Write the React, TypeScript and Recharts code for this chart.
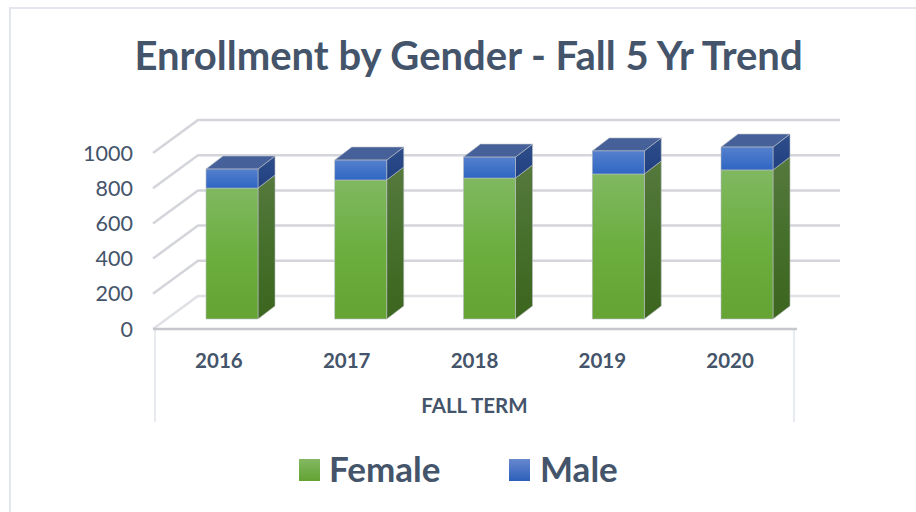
import React from "react";
import { BarChart, Bar, XAxis, YAxis, CartesianGrid, Legend } from "recharts";

const terms = ["2016", "2017", "2018", "2019", "2020"];
const female = [744, 790, 801, 824, 847];
const male = [108, 113, 119, 131, 130];
const yTicks = [0, 200, 400, 600, 800, 1000];
const legendItems = [
  { name: "Female", gradient: "linear-gradient(#84b862,#63a233)", left: 299, textLeft: 329 },
  { name: "Male", gradient: "linear-gradient(#6888cf,#2c5fba)", left: 509, textLeft: 540 },
];

const rows = terms.map((term, i) => ({ term, Female: female[i], Male: male[i] }));

const FONT = "Lato, 'Open Sans', sans-serif";
const INK = "#44546a";
const DEPTH_X = 43;
const DEPTH_Y = 33;
const BAR_DX = 13;
const BAR_DY = -10;
const BAR_SPREAD = 0.95;
const SIDE_X = 17;
const SIDE_Y = 13;
const EDGE = "#b9bdc4";

function box(props: any, front: string, side: string, top?: string) {
  const x = props.x + BAR_DX + (props.index || 0) * BAR_SPREAD;
  const y = props.y + BAR_DY;
  const w = props.width;
  const h = props.height;
  return (
    <g>
      <polygon
        points={`${x + w},${y} ${x + w + SIDE_X},${y - SIDE_Y} ${x + w + SIDE_X},${y + h - SIDE_Y} ${x + w},${y + h}`}
        fill={`url(#${side})`}
        stroke={EDGE}
        strokeWidth={0.6}
      />
      {top && (
        <polygon
          points={`${x},${y} ${x + SIDE_X},${y - SIDE_Y} ${x + w + SIDE_X},${y - SIDE_Y} ${x + w},${y}`}
          fill={top}
          stroke={EDGE}
          strokeWidth={0.6}
        />
      )}
      <rect x={x} y={y} width={w} height={h} fill={`url(#${front})`} stroke={EDGE} strokeWidth={0.6} />
    </g>
  );
}

const femaleShape = (p: any) => box(p, "femaleFront", "femaleSide");
const maleShape = (p: any) => box(p, "maleFront", "maleSide", "#46609a");

function wallLine(props: any) {
  const { x1, x2, y1, y, height } = props;
  const isFloor = Math.abs(y1 - (y + height)) < 1;
  const rightEnd = x2 + 46;
  return (
    <g key={`wall-${y1}`}>
      <polyline
        points={`${x1 - 2},${y1} ${x1 + DEPTH_X},${y1 - DEPTH_Y} ${rightEnd},${y1 - DEPTH_Y}`}
        fill="none"
        stroke={isFloor ? "#dfe1e5" : "#d3d5da"}
        strokeWidth={2.5}
      />
      {isFloor && (
        <g>
          <line x1={x1} x2={x1} y1={y1} y2={422} stroke="#dfe3e9" strokeWidth={1.5} />
          <line x1={x2} x2={x2} y1={y1} y2={422} stroke="#dfe3e9" strokeWidth={1.5} />
          <line x1={x1 - 2} x2={x2 + 3} y1={y1} y2={y1} stroke="#c5c7cc" strokeWidth={2.5} />
        </g>
      )}
    </g>
  );
}

function LegendBox() {
  return (
    <div style={{ position: "relative", width: 916, height: 40 }}>
      {legendItems.map((it) => (
        <React.Fragment key={it.name}>
          <div
            style={{
              position: "absolute",
              left: it.left,
              top: 11,
              width: 21,
              height: 22,
              background: it.gradient,
            }}
          />
          <div
            style={{
              position: "absolute",
              left: it.textLeft,
              top: 0,
              fontFamily: FONT,
              fontWeight: 700,
              fontSize: 35,
              lineHeight: "40px",
              color: INK,
            }}
          >
            {it.name}
          </div>
        </React.Fragment>
      ))}
    </div>
  );
}

export default function App() {
  return (
    <div style={{ position: "absolute", left: 0, top: 0, width: 916, height: 512, overflow: "hidden", background: "#fff" }}>
      <div
        style={{
          position: "absolute",
          left: 9,
          top: 7,
          width: 920,
          height: 520,
          border: "2px solid #e3e6ec",
          boxSizing: "border-box",
        }}
      />
      <div
        style={{
          position: "absolute",
          left: 0,
          width: 937,
          top: 31,
          textAlign: "center",
          fontFamily: FONT,
          fontWeight: 700,
          fontSize: 40,
          lineHeight: "48px",
          color: INK,
          whiteSpace: "nowrap",
        }}
      >
        Enrollment by Gender - Fall 5 Yr Trend
      </div>
      <div style={{ position: "absolute", left: 0, top: 0 }}>
        <BarChart
          width={916}
          height={512}
          data={rows}
          barSize={52}
          margin={{ left: 95, right: 122, top: 153, bottom: 83 }}
        >
          <defs>
            <linearGradient id="femaleFront" x1="0" y1="0" x2="0" y2="1">
              <stop offset="0" stopColor="#80b861" />
              <stop offset="0.5" stopColor="#6cae3f" />
              <stop offset="1" stopColor="#64a334" />
            </linearGradient>
            <linearGradient id="femaleSide" x1="0" y1="0" x2="0" y2="1">
              <stop offset="0" stopColor="#56793d" />
              <stop offset="0.5" stopColor="#456f2b" />
              <stop offset="1" stopColor="#3c651e" />
            </linearGradient>
            <linearGradient id="maleFront" x1="0" y1="0" x2="0" y2="1">
              <stop offset="0" stopColor="#5580cd" />
              <stop offset="1" stopColor="#2f66c3" />
            </linearGradient>
            <linearGradient id="maleSide" x1="0" y1="0" x2="0" y2="1">
              <stop offset="0" stopColor="#2f4e8a" />
              <stop offset="1" stopColor="#1f3f80" />
            </linearGradient>
          </defs>
          <CartesianGrid vertical={false} horizontal={wallLine as any} />
          <XAxis
            dataKey="term"
            height={60}
            axisLine={false}
            tickLine={false}
            tickMargin={18}
            interval={0}
            tick={{ fill: INK, fontFamily: FONT, fontWeight: 700, fontSize: 20.5 }}
            label={{
              value: "FALL TERM",
              position: "insideBottom",
              offset: -24,
              fill: INK,
              fontFamily: FONT,
              fontWeight: 700,
              fontSize: 20.5,
            }}
          />
          <YAxis
            type="number"
            domain={[0, 1000]}
            ticks={yTicks}
            width={60}
            axisLine={false}
            tickLine={false}
            tickMargin={16}
            interval={0}
            tick={{ fill: INK, fontFamily: FONT, fontWeight: 400, fontSize: 21.5 }}
          />
          <Bar dataKey="Female" stackId="a" shape={femaleShape} isAnimationActive={false} />
          <Bar dataKey="Male" stackId="a" shape={maleShape} isAnimationActive={false} />
          <Legend content={<LegendBox />} wrapperStyle={{ position: "absolute", left: 0, top: 448, width: 916 }} />
        </BarChart>
      </div>
    </div>
  );
}
